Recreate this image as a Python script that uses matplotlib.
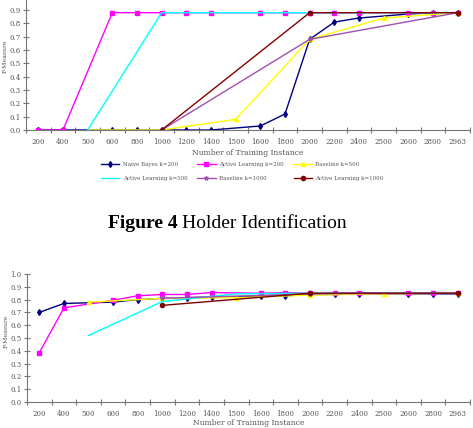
import numpy as np
import matplotlib.pyplot as plt

# categories on the x axis (number of training instances)
instances = [200, 400, 500, 600, 800, 1000, 1200, 1400, 1500, 1600,
             1800, 2000, 2200, 2400, 2500, 2600, 2800, 2963]

# each run uses its own subset of the categories
x_k200 = [200, 400, 600, 800, 1000, 1200, 1400, 1600, 1800, 2000,
          2200, 2400, 2600, 2800, 2963]
x_k500 = [500, 1000, 1500, 2000, 2500, 2963]
x_k1000 = [1000, 2000, 2963]

# top chart
top_nb200 = [0, 0, 0, 0, 0, 0, 0, 0.03, 0.12, 0.68, 0.81, 0.84, 0.87, 0.88, 0.88]
top_al200 = [0, 0, 0.88, 0.88, 0.88, 0.88, 0.88, 0.88, 0.88, 0.88,
             0.88, 0.88, 0.88, 0.88, 0.88]
top_bl500 = [0, 0, 0.08, 0.68, 0.84, 0.88]
top_al500 = [0, 0.88, 0.88, 0.88, 0.88, 0.88]
top_bl1000 = [0, 0.68, 0.88]
top_al1000 = [0, 0.88, 0.88]

# bottom chart
bot_nb200 = [0.70, 0.77, 0.78, 0.80, 0.81, 0.815, 0.82, 0.825, 0.83, 0.84,
             0.84, 0.845, 0.845, 0.845, 0.845]
bot_al200 = [0.385, 0.735, 0.795, 0.83, 0.84, 0.84, 0.855, 0.85, 0.855, 0.85,
             0.85, 0.855, 0.85, 0.85, 0.85]
bot_bl500 = [0.78, 0.81, 0.815, 0.835, 0.845, 0.85]
bot_al500 = [0.52, 0.785, 0.845, 0.85, 0.85, 0.85]
bot_bl1000 = [0.81, 0.845, 0.85]
bot_al1000 = [0.755, 0.85, 0.85]

labels = ['Naive Bayes k=200', 'Active Learning k=200', 'Baseline k=500',
          'Active Learning k=500', 'Baseline k=1000', 'Active Learning k=1000']

txt = '#555555'
font = 'DejaVu Serif'


def idx(xs):
    return [instances.index(v) for v in xs]


def draw(ax, series, yticks, xlab_y):
    styles = [('#000080', 'd', 3), ('#ff00ff', 's', 3.5), ('#ffff00', '^', 3),
              ('#00ffff', '', 0), ('#a050b0', '*', 3), ('#800000', 'o', 3)]
    handles = []
    for (xs, ys), (c, m, ms) in zip(series, styles):
        h, = ax.plot(idx(xs), ys, color=c, marker=m, markersize=ms, lw=1)
        handles.append(h)
    ax.set_xlim(-0.5, len(instances) - 0.5)
    ax.set_ylim(0, 1.0)
    ax.set_xticks(np.arange(-0.5, len(instances)))
    ax.set_xticklabels([])
    ax.set_xticks(np.arange(len(instances)), minor=True)
    ax.set_xticklabels([str(v) for v in instances], minor=True,
                       fontsize=5, color=txt, family=font)
    ax.tick_params(axis='x', which='major', direction='inout', length=5,
                   color='#777777')
    ax.tick_params(axis='x', which='minor', length=0, pad=6)
    ax.set_yticks(yticks)
    ax.set_yticklabels(['%.1f' % v for v in yticks], fontsize=5, color=txt,
                       family=font)
    ax.tick_params(axis='y', direction='inout', length=5, color='#777777',
                   pad=1.5)
    for s in ['top', 'right']:
        ax.spines[s].set_visible(False)
    for s in ['left', 'bottom']:
        ax.spines[s].set_color('#777777')
    ax.set_xlabel('Number of Training Instance', fontsize=5.5, color=txt,
                  family=font)
    ax.set_ylabel('F-Measure', fontsize=4.5, color=txt, family=font)
    ax.yaxis.set_label_coords(-0.041, 0.55)
    ax.xaxis.set_label_coords(0.5, xlab_y)
    return handles


fig = plt.figure(figsize=(4.73, 4.28), dpi=100)

ax1 = fig.add_axes([26 / 473, 298 / 428, 444 / 473, 133.3 / 428])
h = draw(ax1, [(x_k200, top_nb200), (x_k200, top_al200), (x_k500, top_bl500),
               (x_k500, top_al500), (x_k1000, top_bl1000), (x_k1000, top_al1000)],
         np.arange(0, 0.95, 0.1), -0.14)

# legend is filled column by column, so order the handles for row-wise reading
order = [0, 3, 1, 4, 2, 5]
leg = fig.legend([h[i] for i in order], [labels[i] for i in order], ncol=3,
                 loc='upper left', bbox_to_anchor=(96 / 473, 1 - 157 / 428),
                 frameon=False, prop={'family': font, 'size': 4},
                 handlelength=3.3, columnspacing=1.8, labelspacing=1.6,
                 handletextpad=0.6)
for t in leg.get_texts():
    t.set_color(txt)

fig.text(178 / 473, 1 - 224 / 428, 'Figure 4', fontsize=14,
         family='Liberation Serif', weight='bold', ha='right', va='center')
fig.text(182 / 473, 1 - 224 / 428, 'Holder Identification', fontsize=14,
         family='Liberation Serif', ha='left', va='center')

ax2 = fig.add_axes([27 / 473, 26 / 428, 443 / 473, 128 / 428])
draw(ax2, [(x_k200, bot_nb200), (x_k200, bot_al200), (x_k500, bot_bl500),
           (x_k500, bot_al500), (x_k1000, bot_bl1000), (x_k1000, bot_al1000)],
     np.arange(0, 1.01, 0.1), -0.135)

fig.savefig('out.png', dpi=100)
